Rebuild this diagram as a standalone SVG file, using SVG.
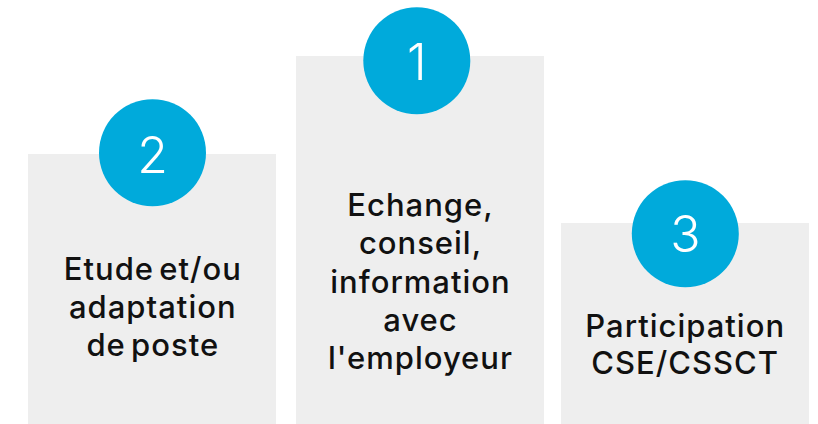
<svg xmlns="http://www.w3.org/2000/svg" width="818" height="424" viewBox="0 0 818 424">
<style>
.box{fill:#eeeeee}
.badge{fill:#00aadb}
.num{font-family:Inter,"Noto Sans",sans-serif;font-weight:300;font-size:50px;fill:#ffffff;text-anchor:middle}
.lbl{font-family:Inter,"Noto Sans",sans-serif;font-weight:500;font-size:31px;letter-spacing:1px;word-spacing:-4px;fill:#111111;text-anchor:middle}
</style>
<rect width="818" height="424" fill="#ffffff"/>
<g id="node2">
<rect class="box" x="28" y="154" width="248" height="270"/>
<circle class="badge" cx="152.5" cy="152.7" r="53.5"/>
<text class="num" x="152.5" y="173.3">2</text>
<text class="lbl" x="152.8" y="280.3">Etude et/ou</text>
<text class="lbl" x="152.8" y="318">adaptation</text>
<text class="lbl" x="152.8" y="356">de poste</text>
</g>
<g id="node1">
<rect class="box" x="296" y="56" width="248" height="368"/>
<circle class="badge" cx="416.8" cy="60.7" r="53.5"/>
<text class="num" x="416.8" y="80">1</text>
<text class="lbl" x="420.5" y="216">Echange,</text>
<text class="lbl" x="420.5" y="254">conseil,</text>
<text class="lbl" x="420.5" y="292.7">information</text>
<text class="lbl" x="420.5" y="330.7">avec</text>
<text class="lbl" x="420.5" y="368.7">l'employeur</text>
</g>
<g id="node3">
<rect class="box" x="561" y="223" width="248" height="201"/>
<circle class="badge" cx="685.3" cy="233.7" r="53.5"/>
<text class="num" x="685.3" y="252">3</text>
<text class="lbl" x="685.2" y="336.7">Participation</text>
<text class="lbl" x="685.2" y="374">CSE/CSSCT</text>
</g>
<g id="connectors"></g>
</svg>
